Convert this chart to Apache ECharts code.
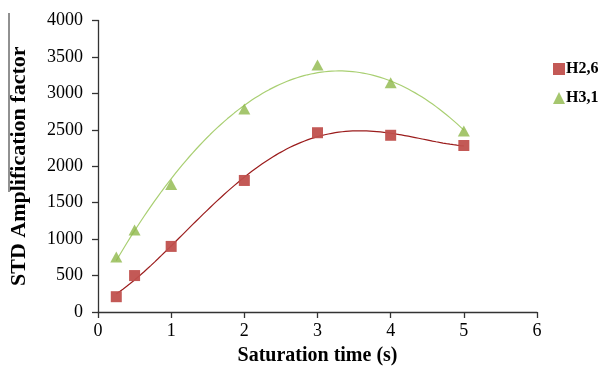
<!DOCTYPE html>
<html><head><meta charset="utf-8">
<script src="https://cdn.jsdelivr.net/npm/echarts@6/dist/echarts.min.js"></script>
<style>html,body{margin:0;padding:0;background:#fff}#c{width:600px;height:375px}</style>
</head><body><div id="c"></div>
<script>
var timesH26 = [0.25, 0.5, 1, 2, 3, 4, 5];
var valuesH26 = [210, 500, 900, 1805, 2460, 2425, 2285];
var timesH31 = [0.25, 0.5, 1, 2, 3, 4, 5];
var valuesH31 = [755, 1125, 1750, 2785, 3390, 3145, 2485];
var xTicks = [0, 1, 2, 3, 4, 5, 6];
var yTicks = [0, 500, 1000, 1500, 2000, 2500, 3000, 3500, 4000];

// least-squares polynomial trendline (like the spreadsheet trendline)
function polyFit(xs, ys, deg) {
  var n = deg + 1, A = [], b = [];
  for (var i = 0; i < n; i++) { A.push(new Array(n).fill(0)); b.push(0); }
  for (var k = 0; k < xs.length; k++) {
    for (var i = 0; i < n; i++) {
      b[i] += ys[k] * Math.pow(xs[k], i);
      for (var j = 0; j < n; j++) A[i][j] += Math.pow(xs[k], i + j);
    }
  }
  for (var i = 0; i < n; i++) {
    var p = i;
    for (var r = i + 1; r < n; r++) if (Math.abs(A[r][i]) > Math.abs(A[p][i])) p = r;
    var t = A[i]; A[i] = A[p]; A[p] = t; var tb = b[i]; b[i] = b[p]; b[p] = tb;
    for (var r = i + 1; r < n; r++) {
      var f = A[r][i] / A[i][i];
      for (var c = i; c < n; c++) A[r][c] -= f * A[i][c];
      b[r] -= f * b[i];
    }
  }
  var coef = new Array(n).fill(0);
  for (var i = n - 1; i >= 0; i--) {
    var s = b[i];
    for (var c = i + 1; c < n; c++) s -= A[i][c] * coef[c];
    coef[i] = s / A[i][i];
  }
  return coef;
}
function trend(xs, ys, deg) {
  var c = polyFit(xs, ys, deg), out = [];
  var x0 = xs[0], x1 = xs[xs.length - 1];
  for (var i = 0; i <= 100; i++) {
    var x = x0 + (x1 - x0) * i / 100, y = 0;
    for (var j = 0; j < c.length; j++) y += c[j] * Math.pow(x, j);
    out.push([x, y]);
  }
  return out;
}
function pairs(xs, ys) { return xs.map(function (x, i) { return [x, ys[i]]; }); }

var serif = '"Liberation Serif", "Times New Roman", serif';
var chart = echarts.init(document.getElementById('c'));
chart.setOption({
  animation: false,
  grid: { left: 97, right: 63, top: 20.5, bottom: 63 },
  xAxis: {
    type: 'value', min: 0, max: 6, interval: 1,
    name: 'Saturation time (s)', nameLocation: 'middle', nameGap: 34,
    nameTextStyle: { fontFamily: serif, fontWeight: 'bold', fontSize: 20, color: '#000' },
    axisLine: { lineStyle: { color: '#333', width: 1.3 } },
    axisTick: { length: 6, lineStyle: { color: '#333', width: 1.3 } },
    axisLabel: { fontFamily: serif, fontSize: 18, color: '#000', margin: 10,
      formatter: function (v) { return String(v); } },
    splitLine: { show: false }
  },
  yAxis: {
    type: 'value', min: 0, max: 4000, interval: 500,
    name: 'STD Amplification factor', nameLocation: 'middle', nameGap: 68,
    nameTextStyle: { fontFamily: serif, fontWeight: 'bold', fontSize: 22, color: '#000' },
    axisLine: { show: true, lineStyle: { color: '#333', width: 1.3 } },
    axisTick: { show: true, length: 6, lineStyle: { color: '#333', width: 1.3 } },
    axisLabel: { fontFamily: serif, fontSize: 18, color: '#000', margin: 15,
      formatter: function (v) { return String(v); } },
    splitLine: { show: false }
  },
  legend: {
    orient: 'vertical', left: 548, top: 56, itemGap: 13,
    itemWidth: 12, itemHeight: 12,
    textStyle: { fontFamily: serif, fontWeight: 'bold', fontSize: 16, color: '#000', padding: [0, 0, 0, -4] },
    data: [{ name: 'H2,6', icon: 'rect' }, { name: 'H3,1', icon: 'triangle' }]
  },
  graphic: [{
    type: 'line', shape: { x1: 9, y1: 13, x2: 9, y2: 192 },
    style: { stroke: '#222', lineWidth: 1 }
  }],
  series: [
    { name: 'H2,6 trend', type: 'line', data: trend(timesH26, valuesH26, 4), showSymbol: false, smooth: false,
      lineStyle: { color: '#9b1c1c', width: 1.2 }, z: 2, silent: true },
    { name: 'H3,1 trend', type: 'line', data: trend(timesH31, valuesH31, 2), showSymbol: false, smooth: false,
      lineStyle: { color: '#a9cf72', width: 1.2 }, z: 2, silent: true },
    { name: 'H2,6', type: 'scatter', data: pairs(timesH26, valuesH26), symbol: 'rect', symbolSize: 11,
      itemStyle: { color: '#c0504d', opacity: 0.95 }, z: 3 },
    { name: 'H3,1', type: 'scatter', data: pairs(timesH31, valuesH31), symbol: 'triangle', symbolSize: [12, 11],
      itemStyle: { color: '#8fb84a' }, z: 3 }
  ]
});
</script></body></html>
